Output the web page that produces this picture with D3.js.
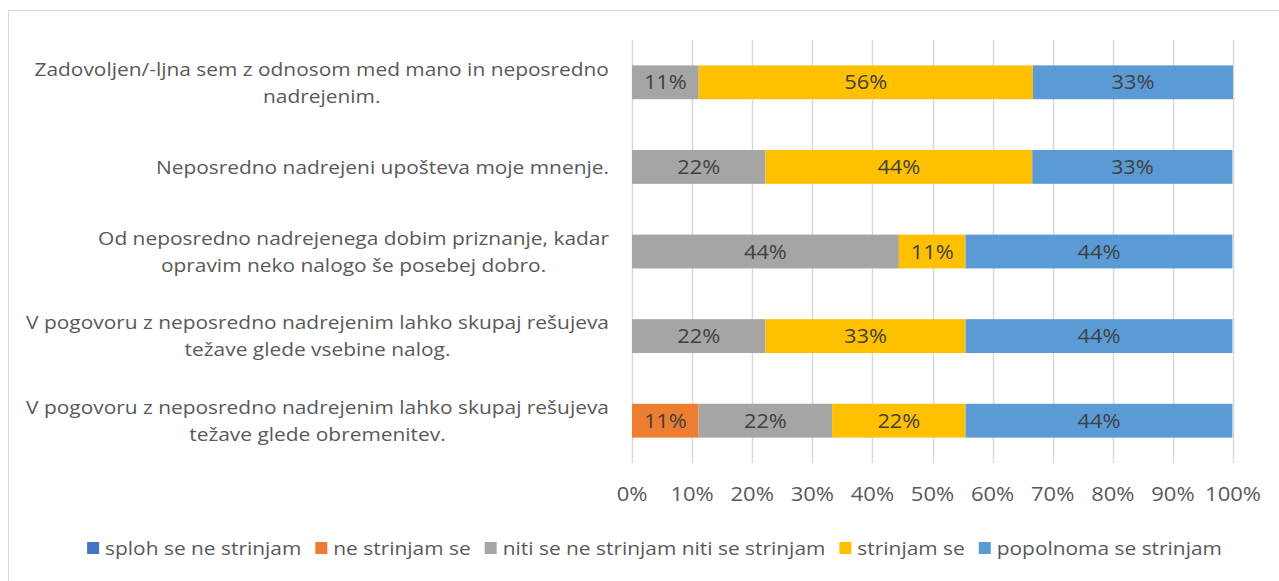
<!DOCTYPE html>
<html>
<head>
<meta charset="utf-8">
<script src="https://cdn.jsdelivr.net/npm/d3@7"></script>
<style>
  body { margin: 0; background: #fff; }
  svg { display: block; font-family: "Open Sans", Lato, sans-serif; }
</style>
</head>
<body>
<div id="chart"></div>
<script>
// kategorije (vrstice), vsaka vrstica je razdeljena v dve vrstici besedila
const categories = [
    ['Zadovoljen/-ljna sem z odnosom med mano in neposredno', 'nadrejenim.'],
    ['Neposredno nadrejeni upošteva moje mnenje.'],
    ['Od neposredno nadrejenega dobim priznanje, kadar', 'opravim neko nalogo še posebej dobro.'],
    ['V pogovoru z neposredno nadrejenim lahko skupaj rešujeva', 'težave glede vsebine nalog.'],
    ['V pogovoru z neposredno nadrejenim lahko skupaj rešujeva', 'težave glede obremenitev.']
];

const seriesNames = ['sploh se ne strinjam', 'ne strinjam se', 'niti se ne strinjam niti se strinjam', 'strinjam se', 'popolnoma se strinjam'];

// deleži v % po serijah (isti vrstni red kot categories)
const splohSeNe = [0, 0, 0, 0, 0];
const neStrinjam = [0, 0, 0, 0, 11.1];
const niti = [11.1, 22.2, 44.4, 22.2, 22.2];
const strinjam = [55.6, 44.4, 11.1, 33.3, 22.2];
const popolnoma = [33.3, 33.3, 44.4, 44.4, 44.4];

const ticks = [0, 10, 20, 30, 40, 50, 60, 70, 80, 90, 100];
const colors = ['#4472C4', '#ED7D31', '#A5A5A5', '#FFC000', '#5B9BD5'];

const W = 1279, H = 581;
const SX = 1.1; // besedilo v izvirniku je nekoliko razširjeno
const svg = d3.select('#chart').append('svg').attr('width', W).attr('height', H);

// okvir grafikona
svg.append('rect')
    .attr('x', 8.5).attr('y', 10.5)
    .attr('width', 1300).attr('height', 600)
    .attr('fill', 'none').attr('stroke', '#d9d9d9');

const plot = { left: 632, right: 1233, top: 40, bottom: 463 };

const x = d3.scaleLinear().domain([0, 100]).range([plot.left, plot.right]);
const y = d3.scaleBand()
    .domain(d3.range(categories.length))
    .range([plot.top, plot.bottom])
    .paddingInner(0.6).paddingOuter(0.3);

// mreža
svg.append('g')
    .selectAll('line')
    .data(ticks)
    .enter()
    .append('line')
    .attr('x1', d => Math.round(x(d)) + 0.5)
    .attr('x2', d => Math.round(x(d)) + 0.5)
    .attr('y1', plot.top)
    .attr('y2', plot.bottom)
    .attr('stroke', '#d9d9d9')
    .attr('stroke-width', 1.5);

// podatki za zložene stolpce
const rows = categories.map((c, i) => ({
    i: i,
    v0: splohSeNe[i], v1: neStrinjam[i], v2: niti[i], v3: strinjam[i], v4: popolnoma[i]
}));
const stack = d3.stack().keys(['v0', 'v1', 'v2', 'v3', 'v4']);
const stacked = stack(rows);

const groups = svg.append('g')
    .selectAll('g')
    .data(stacked)
    .enter()
    .append('g')
    .attr('fill', (d, k) => colors[k]);

groups.selectAll('rect')
    .data(d => d.filter(s => s[1] - s[0] > 0))
    .enter()
    .append('rect')
    .attr('x', d => x(d[0]))
    .attr('y', d => y(d.data.i))
    .attr('width', d => x(d[1]) - x(d[0]))
    .attr('height', y.bandwidth());

// oznake vrednosti
groups.selectAll('text')
    .data(d => d.filter(s => s[1] - s[0] > 0))
    .enter()
    .append('text')
    .attr('transform', d => `translate(${(x(d[0]) + x(d[1])) / 2},${y(d.data.i) + y.bandwidth() / 2}) scale(${SX},1)`)
    .attr('dy', '0.36em')
    .attr('text-anchor', 'middle')
    .attr('fill', '#404040')
    .style('font-size', '19.8px')
    .text(d => Math.round(d[1] - d[0]) + '%');

// os x
svg.append('g')
    .selectAll('text')
    .data(ticks)
    .enter()
    .append('text')
    .attr('transform', d => `translate(${x(d)},494) scale(${SX},1)`)
    .attr('dy', '0.36em')
    .attr('text-anchor', 'middle')
    .attr('fill', '#595959')
    .style('font-size', '20px')
    .text(d => d + '%');

// oznake kategorij (sredinsko poravnan blok, desni rob na 609)
const labelRight = 609;
const lineH = 27;
categories.forEach((lines, i) => {
    const g = svg.append('g');
    const cy = y(i) + y.bandwidth() / 2;
    const texts = lines.map((line, j) => g.append('text')
        .attr('dy', '0.36em')
        .attr('text-anchor', 'middle')
        .attr('fill', '#595959')
        .style('font-size', '19px')
        .text(line));
    const maxW = d3.max(texts, t => t.node().getComputedTextLength()) * SX;
    texts.forEach((t, j) => t.attr('transform',
        `translate(${labelRight - maxW / 2},${cy + (j - (lines.length - 1) / 2) * lineH}) scale(${SX},1)`));
});

// legenda
const legend = svg.append('g');
let lx = 0;
seriesNames.forEach((name, k) => {
    const it = legend.append('g').attr('transform', `translate(${lx},0)`);
    it.append('rect').attr('x', 0).attr('y', -6).attr('width', 12).attr('height', 12).attr('fill', colors[k]);
    const t = it.append('text')
        .attr('transform', `translate(18,0) scale(${SX},1)`)
        .attr('dy', '0.36em')
        .attr('fill', '#595959')
        .style('font-size', '19px')
        .text(name);
    lx += 18 + t.node().getComputedTextLength() * SX + 14;
});
const legendW = lx - 14;
legend.attr('transform', `translate(${654.5 - legendW / 2},548)`);
</script>
</body>
</html>
